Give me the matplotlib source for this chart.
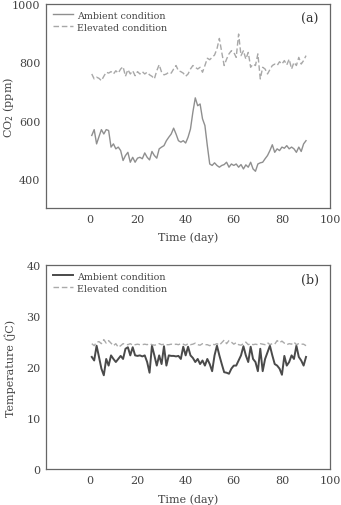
import matplotlib
matplotlib.use("Agg")
import matplotlib.pyplot as plt
import numpy as np

plt.rcParams['font.family'] = ['DejaVu Serif']

days = np.arange(1, 91)

co2_ambient = [549, 569, 520, 545, 569, 554, 569, 566, 509, 520,
               503, 509, 497, 463, 480, 491, 457, 474, 457, 471,
               474, 469, 489, 474, 465, 494, 480, 471, 503, 509,
               514, 531, 543, 554, 574, 554, 531, 526, 531, 523,
               543, 571, 629, 678, 651, 657, 606, 583, 514, 451,
               446, 455, 446, 440, 446, 449, 457, 440, 451, 446,
               451, 440, 449, 434, 448, 440, 457, 434, 426, 451,
               455, 457, 469, 480, 497, 517, 491, 503, 497, 509,
               505, 514, 503, 509, 503, 491, 509, 494, 520, 531]

co2_elevated = [760, 743, 749, 745, 737, 752, 766, 763, 768, 760,
                771, 763, 777, 785, 752, 775, 760, 771, 754, 768,
                760, 768, 760, 766, 757, 752, 743, 771, 792, 766,
                757, 760, 766, 763, 777, 789, 771, 768, 763, 752,
                760, 777, 789, 783, 777, 783, 766, 789, 814, 809,
                817, 825, 846, 882, 834, 789, 811, 829, 840, 834,
                817, 897, 823, 840, 811, 834, 783, 794, 789, 829,
                743, 783, 777, 760, 775, 789, 794, 789, 802, 794,
                806, 791, 811, 777, 800, 789, 817, 794, 806, 823]

temp_ambient = [22.0, 21.3, 24.2, 22.0, 19.7, 18.4, 21.6, 20.3, 22.3, 21.6,
                21.0, 21.6, 22.2, 21.6, 23.6, 23.9, 22.3, 23.9, 22.3, 22.2,
                22.3, 22.1, 22.3, 21.0, 18.9, 24.2, 22.3, 20.3, 22.3, 20.6,
                24.1, 20.3, 22.3, 22.2, 22.2, 22.1, 22.2, 21.6, 24.0, 22.3,
                24.0, 22.3, 21.8, 21.0, 21.6, 20.6, 21.3, 20.3, 21.6, 20.6,
                19.2, 22.3, 24.2, 22.3, 20.6, 19.0, 18.9, 18.7, 19.7, 20.3,
                20.3, 21.3, 22.3, 24.1, 22.3, 21.0, 24.0, 21.6, 21.0, 19.2,
                23.6, 19.2, 21.6, 22.9, 24.2, 22.3, 20.6, 20.3, 19.7, 18.5,
                22.2, 20.3, 21.0, 22.3, 21.6, 24.2, 22.0, 21.3, 20.3, 22.0]

temp_elevated = [24.6, 24.2, 24.9, 25.0, 24.6, 25.4, 24.7, 25.2, 24.7, 24.2,
                 24.6, 23.9, 24.2, 24.6, 24.5, 24.4, 24.6, 24.3, 24.4, 24.5,
                 24.4, 24.4, 24.5, 24.4, 24.6, 24.4, 24.3, 24.4, 24.6, 24.4,
                 24.5, 24.4, 24.4, 24.5, 24.4, 24.5, 24.4, 24.6, 24.5, 24.3,
                 24.6, 24.4, 24.5, 24.7, 24.4, 24.3, 24.6, 24.4, 24.4, 24.2,
                 24.5, 24.4, 24.6, 24.3, 24.8, 25.3, 24.6, 25.2, 24.9, 24.5,
                 24.8, 24.4, 24.3, 24.6, 24.9, 24.4, 24.6, 24.4, 24.5, 24.4,
                 24.6, 24.5, 24.4, 24.8, 24.4, 24.6, 24.5, 25.2, 24.8, 25.1,
                 24.7, 24.4, 24.6, 24.5, 24.9, 24.4, 24.6, 24.5, 24.5, 24.2]

fig = plt.figure(figsize=(3.41, 5.06), dpi=100)
ax1 = fig.add_axes([0.135, 0.587, 0.833, 0.403])
ax2 = fig.add_axes([0.135, 0.071, 0.833, 0.403])

ax1.plot(days, co2_ambient, color='#8f8f8f', lw=1.0, label='Ambient condition')
ax1.plot(days, co2_elevated, color='#a8a8a8', lw=1.0, ls=(0, (4, 2)), label='Elevated condition')
ax1.set_ylim(300, 1000)
ax1.set_yticks([400, 600, 800, 1000])
ax1.set_ylabel('CO$_2$ (ppm)', fontsize=8, color='#444444')
ax1.text(0.96, 0.93, '(a)', transform=ax1.transAxes, ha='right', va='center',
         fontsize=9, color='#333333')

ax2.plot(days, temp_ambient, color='#4a4a4a', lw=1.4, label='Ambient condition')
ax2.plot(days, temp_elevated, color='#aaaaaa', lw=1.0, ls=(0, (4, 2)), label='Elevated condition')
ax2.set_ylim(0, 40)
ax2.set_yticks([0, 10, 20, 30, 40])
ax2.set_ylabel('Temperature (ĵC)', fontsize=8, color='#444444')
ax2.text(0.96, 0.93, '(b)', transform=ax2.transAxes, ha='right', va='center',
         fontsize=9, color='#333333')

for ax in (ax1, ax2):
    ax.set_xlim(-18, 100)
    ax.set_xticks([0, 20, 40, 60, 80, 100])
    ax.set_xlabel('Time (day)', fontsize=8, color='#444444', labelpad=6)
    ax.yaxis.set_label_coords(-0.105, 0.5)
    ax.tick_params(labelsize=8, labelcolor='#444444', length=0, pad=4)
    for s in ax.spines.values():
        s.set_color('#666666')
        s.set_linewidth(0.9)
    leg = ax.legend(loc='upper left', frameon=False, fontsize=6.8, handlelength=2.2,
                    handletextpad=0.4, labelspacing=0.3, borderaxespad=0.3)
    for t in leg.get_texts():
        t.set_color('#444444')

fig.savefig('out.png', dpi=100)
